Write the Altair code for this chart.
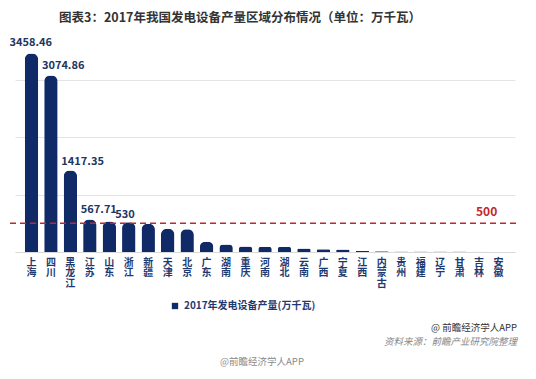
import altair as alt
import pandas as pd

regions = ["上海", "四川", "黑龙江", "江苏", "山东", "浙江", "新疆", "天津", "北京",
           "广东", "湖南", "重庆", "河南", "湖北", "云南", "广西", "宁夏", "江西",
           "内蒙古", "贵州", "福建", "辽宁", "甘肃", "吉林", "安徽"]
output = [3458.46, 3074.86, 1417.35, 567.71, 530, 518, 490, 407, 396,
          180, 132, 95, 93, 93, 60, 47, 45, 18,
          14, 10, 10, 9, 8, 6, 1]
shown_labels = {"上海": "3458.46", "四川": "3074.86", "黑龙江": "1417.35",
                "江苏": "567.71", "山东": "530"}
series_name = "2017年发电设备产量(万千瓦)"
threshold = [500]
title_text = "图表3：2017年我国发电设备产量区域分布情况（单位：万千瓦）"
credit_text = "@ 前瞻经济学人APP"
source_text = "资料来源：前瞻产业研究院整理"
footer_text = "@前瞻经济学人APP"

FONT = "Noto Sans CJK SC"
NAVY = "#102a67"
RED = "#c0272d"

df = pd.DataFrame({"region": regions, "value": output, "series": series_name})
df["label"] = df["region"].map(shown_labels).fillna("")

xenc = alt.X("region:N", sort=regions,
             scale=alt.Scale(paddingInner=0.31, paddingOuter=0.5),
             axis=alt.Axis(title=None, labelAngle=0, labelExpr="split(datum.label, '')",
                           labelFont=FONT, labelFontSize=10, labelFontWeight="bold",
                           labelColor="#1f3a70",
                           labelBaseline="top", labelLineHeight=10.5, labelPadding=5,
                           ticks=False, domainColor="#d9d9d9"))
yenc = alt.Y("value:Q", scale=alt.Scale(domain=[0, 3500], nice=False),
             axis=alt.Axis(title=None, labels=False, ticks=False, domain=False,
                           grid=True, gridColor="#e4e4e4", values=[0, 500, 1000, 1500, 2000, 2500, 3000, 3500]))

base = alt.Chart(df)

bars = base.mark_bar(cornerRadiusTopLeft=6, cornerRadiusTopRight=6).encode(
    x=xenc, y=yenc,
    color=alt.Color("series:N", scale=alt.Scale(range=[NAVY]),
                    legend=alt.Legend(title=None, orient="none", legendX=155, legendY=250,
                                      symbolType="square", symbolSize=40,
                                      labelFont=FONT, labelFontSize=10, labelFontWeight="bold",
                                      labelColor="#1f3a70")))

lab_main = base.transform_filter(
    alt.FieldOneOfPredicate(field="region", oneOf=["四川", "黑龙江", "江苏"])
).mark_text(align="left", baseline="bottom", dx=-9, dy=-4, font=FONT, fontSize=11,
            fontWeight="bold", color="#22365f").encode(
    x=alt.X("region:N", sort=regions), y="value:Q", text="label:N")
lab_first = base.transform_filter(alt.datum.region == "上海").mark_text(
    align="left", baseline="bottom", dx=-22, dy=-5, font=FONT, fontSize=11,
    fontWeight="bold", color="#22365f").encode(
    x=alt.X("region:N", sort=regions), y="value:Q", text="label:N")
lab_sd = base.transform_filter(alt.datum.region == "山东").mark_text(
    align="left", baseline="bottom", dx=6, dy=-2, font=FONT, fontSize=11,
    fontWeight="bold", color="#22365f").encode(
    x=alt.X("region:N", sort=regions), y="value:Q", text="label:N")

tdf = pd.DataFrame({"v": threshold, "t": [str(t) for t in threshold]})
rule = alt.Chart(tdf).mark_rule(color=RED, strokeDash=[6, 4], strokeWidth=1.5).encode(
    y=alt.Y("v:Q"), x=alt.value(-5), x2=alt.value(503))
rule_text = alt.Chart(tdf).mark_text(align="left", baseline="bottom", dy=-4, font=FONT,
                                     fontSize=12, fontWeight="bold", color=RED).encode(
    y=alt.Y("v:Q"), x=alt.value(461), text="t:N")

title = alt.Chart(pd.DataFrame({"t": [title_text]})).mark_text(
    font=FONT, fontSize=12.5, fontWeight="bold", color="#333333", baseline="middle").encode(
    text="t:N", x=alt.value(225), y=alt.value(-33))
credit = alt.Chart(pd.DataFrame({"t": [credit_text]})).mark_text(
    font=FONT, fontSize=9.5, color="#333333", align="right", baseline="middle").encode(
    text="t:N", x=alt.value(502), y=alt.value(277))
source = alt.Chart(pd.DataFrame({"t": [source_text]})).mark_text(
    font=FONT, fontSize=9.5, fontStyle="italic", color="#888888", align="right",
    baseline="middle").encode(text="t:N", x=alt.value(502), y=alt.value(291))
footer = alt.Chart(pd.DataFrame({"t": [footer_text]})).mark_text(
    font=FONT, fontSize=9.5, color="#8a8a8a", baseline="middle").encode(
    text="t:N", x=alt.value(247), y=alt.value(311))

chart = alt.layer(bars, rule, rule_text, lab_main, lab_first, lab_sd,
                  title, credit, source, footer).properties(
    width=500, height=201, autosize="none",
    padding={"left": 7, "top": 43, "right": 13, "bottom": 119},
    background="white"
).configure_view(stroke=None)

chart.save("out.html", embed_options={"renderer": "svg", "actions": False})
